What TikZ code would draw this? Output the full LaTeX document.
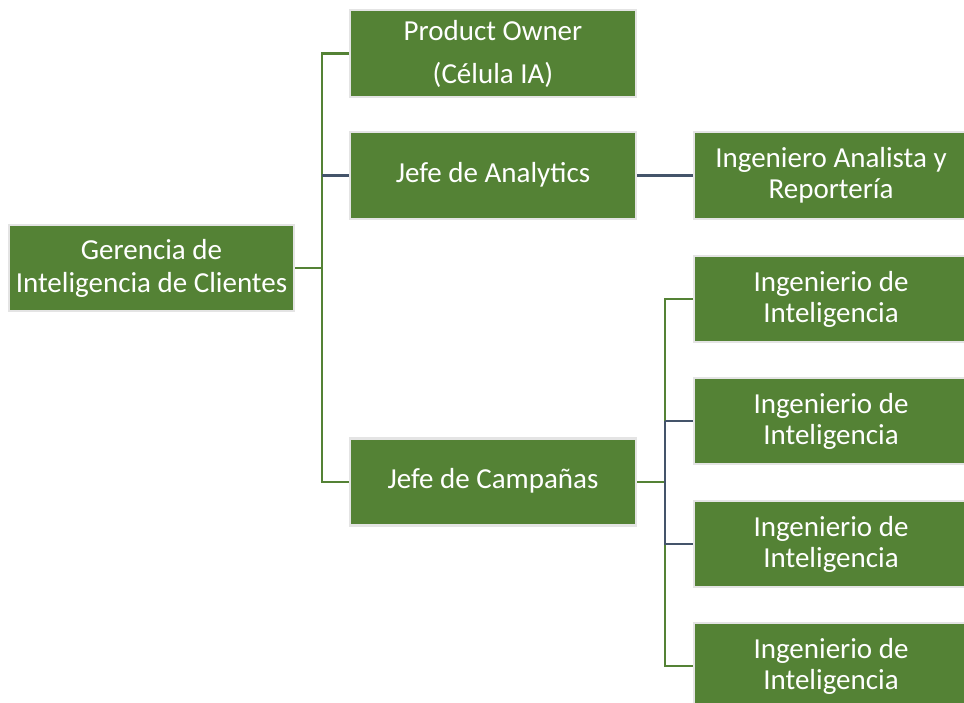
\documentclass[tikz,border=0pt]{standalone}
\usepackage{fontspec}
\setmainfont{Carlito}
\definecolor{boxgreen}{HTML}{548235}
\definecolor{boxedge}{HTML}{E4E4E4}
\definecolor{darkline}{HTML}{44546A}
\begin{document}
\begin{tikzpicture}[x=1pt,y=-1pt,
  box/.style={draw=boxedge, line width=2.2pt, fill=boxgreen, text=white,
    align=center, inner sep=0pt, font=\fontsize{29}{33}\selectfont},
  gline/.style={draw=boxgreen, line width=2.6pt},
  dline/.style={draw=darkline, line width=2.6pt}]
\useasboundingbox (0,0) rectangle (964,703);
\node[box, minimum width=285, minimum height=86] (ger) at (151.5,268) {Gerencia de\\Inteligencia de Clientes};
\node[box, minimum width=286, minimum height=87, font=\fontsize{29}{43}\selectfont] (po) at (493,53.5) {Product Owner\\(Célula IA)};
\node[box, minimum width=286, minimum height=87] (ana) at (493,175.5) {\strut Jefe de Analytics};
\node[box, minimum width=286, minimum height=87] (camp) at (493,482) {\strut Jefe de Campañas};
\node[box, minimum width=274, minimum height=87, font=\fontsize{29}{31}\selectfont] (ia) at (831,175.5) {Ingeniero Analista y\\Reportería};
\node[box, minimum width=274, minimum height=86, font=\fontsize{29}{31}\selectfont] (i1) at (831,299) {Ingenierio de\\Inteligencia};
\node[box, minimum width=274, minimum height=86, font=\fontsize{29}{31}\selectfont] (i2) at (831,421) {Ingenierio de\\Inteligencia};
\node[box, minimum width=274, minimum height=86, font=\fontsize{29}{31}\selectfont] (i3) at (831,544) {Ingenierio de\\Inteligencia};
\node[box, minimum width=274, minimum height=86, font=\fontsize{29}{31}\selectfont] (i4) at (831,666) {Ingenierio de\\Inteligencia};
\coordinate (j1) at (322,268);
\coordinate (j2) at (665,482);
\draw[gline] (ger.east) -- (j1);
\draw[gline] (j1) |- (po.west);
\draw[gline] (j1) |- (camp.west);
\draw[dline] (j1 |- ana.west) -- (ana.west);
\draw[dline] (ana.east) -- (ia.west);
\draw[gline] (camp.east) -- (j2);
\draw[gline] (j2) |- (i1.west);
\draw[gline] (j2) |- (i4.west);
\draw[dline] (j2 |- i2.west) -- (i2.west);
\draw[dline] (j2 |- i2.west) -- (j2 |- i3.west) -- (i3.west);
\end{tikzpicture}
\end{document}
